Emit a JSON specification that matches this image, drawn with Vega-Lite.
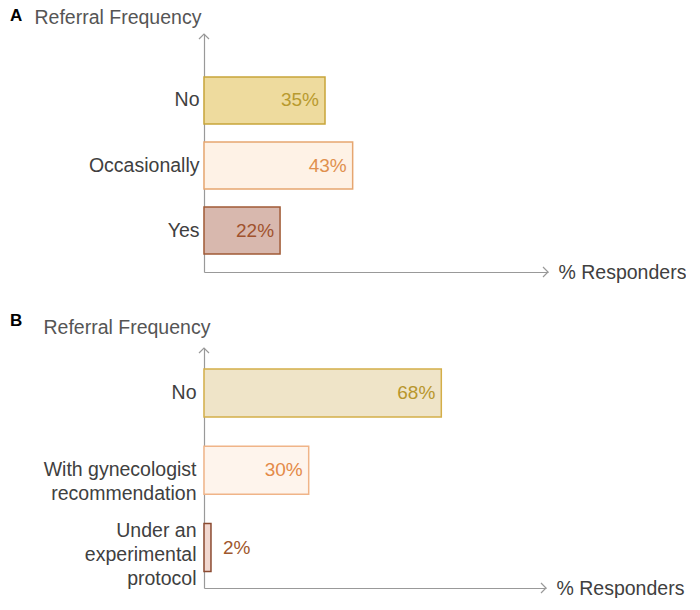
{
  "$schema": "https://vega.github.io/schema/vega-lite/v6.json",
  "padding": {"left": 10, "top": 7, "right": 0, "bottom": 0},
  "background": "white",
  "spacing": 30,
  "config": {"view": {"stroke": null}, "font": "Liberation Sans"},
  "resolve": {"scale": {"x": "independent", "y": "independent", "fill": "independent", "stroke": "independent", "color": "independent"}},
  "vconcat": [
    {
      "width": 344,
      "height": 238,
      "title": {"text": "A", "anchor": "start", "fontSize": 17, "fontWeight": "bold", "color": "#000", "dx": -24, "dy": 18, "offset": 0},
      "data": {"values": [
        {"label": "No", "value": 0.35},
        {"label": "Occasionally", "value": 0.43},
        {"label": "Yes", "value": 0.22}
      ]},
      "resolve": {"scale": {"y": "independent"}, "axis": {"y": "independent"}},
      "layer": [
        {
          "layer": [
            {
              "mark": {"type": "bar", "strokeWidth": 1.5},
              "encoding": {
                "y": {"field": "label", "type": "nominal", "sort": null,
                  "scale": {"paddingInner": 0.277, "paddingOuter": 0.469, "align": 0.705},
                  "axis": {"title": "Referral Frequency", "titleAngle": 0, "titleAlign": "left", "titleBaseline": "middle", "titleX": -170, "titleY": -17, "titleFontSize": 19.5, "titleFontWeight": "normal", "titleColor": "#555", "titleFont": "Liberation Sans", "domainColor": "#999", "domainWidth": 1.2, "ticks": false, "grid": false, "labelFontSize": 19.5, "labelColor": "#404040", "labelPadding": 5, "labelFont": "Liberation Sans"}},
                "x": {"field": "value", "type": "quantitative",
                  "scale": {"domain": [0, 0.995], "nice": false},
                  "axis": {"title": "% Responders", "labels": false, "ticks": false, "grid": false, "domainColor": "#999", "domainWidth": 1.2, "titleX": 354, "titleY": 0, "titleAlign": "left", "titleBaseline": "middle", "titleAngle": 0, "titleFontSize": 19.5, "titleFontWeight": "normal", "titleColor": "#404040", "titleFont": "Liberation Sans"}},
                "fill": {"field": "label", "type": "nominal", "legend": null,
                  "scale": {"domain": ["No", "Occasionally", "Yes"], "range": ["#EEDB9E", "#FEF2E6", "#D8B8AE"]}},
                "stroke": {"field": "label", "type": "nominal", "legend": null,
                  "scale": {"domain": ["No", "Occasionally", "Yes"], "range": ["#C8A53A", "#E6A670", "#A05A36"]}}
              }
            },
            {
              "mark": {"type": "text", "align": "right", "baseline": "middle", "dx": -6, "fontSize": 19, "font": "Liberation Sans"},
              "encoding": {
                "y": {"field": "label", "type": "nominal", "sort": null},
                "x": {"field": "value", "type": "quantitative"},
                "text": {"field": "value", "type": "quantitative", "format": ".0%"},
                "color": {"field": "label", "type": "nominal", "legend": null,
                  "scale": {"domain": ["No", "Occasionally", "Yes"], "range": ["#B89A2E", "#E0904E", "#A0522D"]}}
              }
            }
          ]
        },
        {
          "data": {"values": [{}]},
          "layer": [
            {
              "mark": {"type": "point", "shape": "M-1,1L0,0L1,1", "size": 100, "filled": false, "stroke": "#999", "strokeWidth": 1.2, "opacity": 1},
              "encoding": {
                "x": {"datum": 0, "type": "quantitative"},
                "y": {"datum": 1, "type": "quantitative", "scale": {"domain": [0, 1], "nice": false}, "axis": null}
              }
            },
            {
              "mark": {"type": "point", "shape": "M-1,-1L0,0L-1,1", "size": 100, "filled": false, "stroke": "#999", "strokeWidth": 1.2, "opacity": 1},
              "encoding": {
                "x": {"datum": 0.995, "type": "quantitative"},
                "y": {"datum": 0, "type": "quantitative", "scale": {"domain": [0, 1], "nice": false}, "axis": null}
              }
            }
          ]
        }
      ]
    },
    {
      "width": 342,
      "height": 240,
      "title": {"text": "B", "anchor": "start", "fontSize": 17, "fontWeight": "bold", "color": "#000", "dx": -33, "dy": 13, "offset": 0},
      "data": {"values": [
        {"label": "No", "value": 0.68},
        {"label": "With gynecologist|recommendation", "value": 0.30},
        {"label": "Under an|experimental|protocol", "value": 0.02}
      ]},
      "resolve": {"scale": {"y": "independent"}, "axis": {"y": "independent"}},
      "layer": [
        {
          "layer": [
            {
              "mark": {"type": "bar", "strokeWidth": 1.5},
              "encoding": {
                "y": {"field": "label", "type": "nominal", "sort": null,
                  "scale": {"paddingInner": 0.38, "paddingOuter": 0.2435, "align": 0.56},
                  "axis": {"title": "Referral Frequency", "titleAngle": 0, "titleAlign": "left", "titleBaseline": "middle", "titleX": -161, "titleY": -21, "titleFontSize": 19.5, "titleFontWeight": "normal", "titleColor": "#555", "titleFont": "Liberation Sans", "domainColor": "#999", "domainWidth": 1.2, "ticks": false, "grid": false, "labelFontSize": 19.5, "labelColor": "#404040", "labelPadding": 8, "labelFont": "Liberation Sans", "labelLineHeight": 24, "labelExpr": "split(datum.label, '|')",
                    "labelOffset": {"condition": {"test": "indexof(datum.value, 'Under') === 0", "value": -17}, "value": 0}}},
                "x": {"field": "value", "type": "quantitative",
                  "scale": {"domain": [0, 0.98], "nice": false},
                  "axis": {"title": "% Responders", "labels": false, "ticks": false, "grid": false, "domainColor": "#999", "domainWidth": 1.2, "titleX": 352, "titleY": 0, "titleAlign": "left", "titleBaseline": "middle", "titleAngle": 0, "titleFontSize": 19.5, "titleFontWeight": "normal", "titleColor": "#404040", "titleFont": "Liberation Sans"}},
                "fill": {"field": "label", "type": "nominal", "legend": null,
                  "scale": {"domain": ["No", "With gynecologist|recommendation", "Under an|experimental|protocol"], "range": ["#EFE4C8", "#FEF4EC", "#F2D8D0"]}},
                "stroke": {"field": "label", "type": "nominal", "legend": null,
                  "scale": {"domain": ["No", "With gynecologist|recommendation", "Under an|experimental|protocol"], "range": ["#D4AE48", "#F0B488", "#8B4A30"]}}
              }
            },
            {
              "transform": [{"filter": "datum.value >= 0.05"}],
              "mark": {"type": "text", "align": "right", "baseline": "middle", "dx": -6, "fontSize": 19, "font": "Liberation Sans"},
              "encoding": {
                "y": {"field": "label", "type": "nominal", "sort": null},
                "x": {"field": "value", "type": "quantitative"},
                "text": {"field": "value", "type": "quantitative", "format": ".0%"},
                "color": {"field": "label", "type": "nominal", "legend": null,
                  "scale": {"domain": ["No", "With gynecologist|recommendation", "Under an|experimental|protocol"], "range": ["#B8962C", "#E48A48", "#A0582D"]}}
              }
            },
            {
              "transform": [{"filter": "datum.value < 0.05"}],
              "mark": {"type": "text", "align": "left", "baseline": "middle", "dx": 12, "fontSize": 19, "font": "Liberation Sans"},
              "encoding": {
                "y": {"field": "label", "type": "nominal", "sort": null},
                "x": {"field": "value", "type": "quantitative"},
                "text": {"field": "value", "type": "quantitative", "format": ".0%"},
                "color": {"field": "label", "type": "nominal", "legend": null}
              }
            }
          ]
        },
        {
          "data": {"values": [{}]},
          "layer": [
            {
              "mark": {"type": "point", "shape": "M-1,1L0,0L1,1", "size": 100, "filled": false, "stroke": "#999", "strokeWidth": 1.2, "opacity": 1},
              "encoding": {
                "x": {"datum": 0, "type": "quantitative"},
                "y": {"datum": 1, "type": "quantitative", "scale": {"domain": [0, 1], "nice": false}, "axis": null}
              }
            },
            {
              "mark": {"type": "point", "shape": "M-1,-1L0,0L-1,1", "size": 100, "filled": false, "stroke": "#999", "strokeWidth": 1.2, "opacity": 1},
              "encoding": {
                "x": {"datum": 0.98, "type": "quantitative"},
                "y": {"datum": 0, "type": "quantitative", "scale": {"domain": [0, 1], "nice": false}, "axis": null}
              }
            }
          ]
        }
      ]
    }
  ]
}
